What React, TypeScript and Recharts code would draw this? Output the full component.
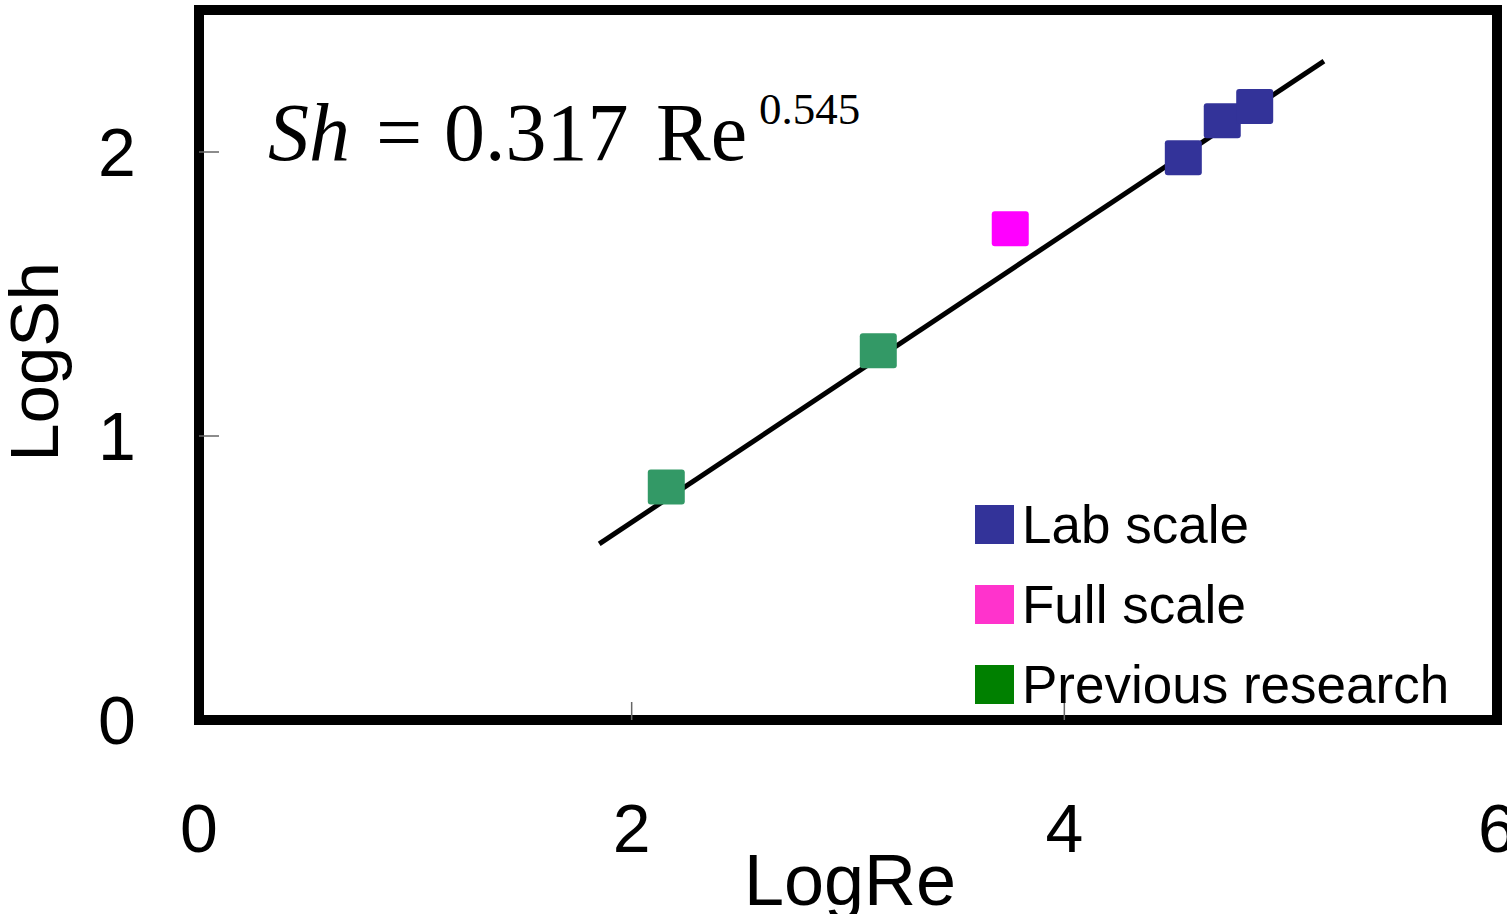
// Sh–Re correlation: log-log scatter of three data sets with a fitted line.

import React from 'react'
import {
  ScatterChart,
  Scatter,
  XAxis,
  YAxis,
  ReferenceLine,
  ReferenceArea,
} from 'recharts'

const SANS = "'Liberation Sans', Arial, Helvetica, sans-serif"
const SERIF = "'Liberation Serif', 'Times New Roman', serif"

// values (LogRe, LogSh)
const labScale = [
  { x: 4.55, y: 1.98 },
  { x: 4.73, y: 2.11 },
  { x: 4.88, y: 2.16 },
]
const fullScale = [{ x: 3.75, y: 1.73 }]
const previousResearch = [
  { x: 2.16, y: 0.82 },
  { x: 3.14, y: 1.3 },
]
// fitted line end points
const fitLine = [
  { x: 1.85, y: 0.62 },
  { x: 5.2, y: 2.32 },
]

const xTicks = [0, 2, 4, 6]
const yTicks = [0, 1, 2]

const seriesNames = ['Lab scale', 'Full scale', 'Previous research']
const markerColors = ['#333399', '#FF00FF', '#339966']
const legendColors = ['#333399', '#FF33CC', '#008000']

function SquareMarker(props: any) {
  const { cx, cy, fill } = props
  if (cx == null || cy == null) return null
  return <rect x={cx - 18.5} y={cy - 17.5} width={37} height={35} rx={3} fill={fill} />
}

function XTick({ x, y, payload }: any) {
  return (
    <g>
      {payload.value !== 0 && payload.value !== 6 && (
        <line x1={x} x2={x} y1={y} y2={y - 18} stroke="#666" strokeWidth={1.5} />
      )}
      <text x={x} y={y + 108} textAnchor="middle" dominantBaseline="central" fontSize={68} fontFamily={SANS} fill="#000">
        {payload.value}
      </text>
    </g>
  )
}

function YTick({ x, y, payload }: any) {
  return (
    <g>
      {payload.value !== 0 && (
        <line x1={x} x2={x + 20} y1={y} y2={y} stroke="#666" strokeWidth={1.5} />
      )}
      <text x={x - 82} y={y} textAnchor="middle" dominantBaseline="central" fontSize={68} fontFamily={SANS} fill="#000">
        {payload.value}
      </text>
    </g>
  )
}

function LegendBox() {
  return (
    <div style={{ position: 'absolute', left: 975, top: 484, fontFamily: SANS }}>
      {seriesNames.map((name, i) => (
        <div key={name} style={{ display: 'flex', alignItems: 'center', height: 80 }}>
          <span style={{ width: 39, height: 39, background: legendColors[i], marginRight: 8, display: 'inline-block' }} />
          <span style={{ fontSize: 53, lineHeight: '53px', color: '#000', whiteSpace: 'nowrap' }}>{name}</span>
        </div>
      ))}
    </div>
  )
}

export default function App() {
  return (
    <div style={{ position: 'absolute', left: 0, top: 0, width: 1507, height: 914, background: '#fff', overflow: 'hidden' }}>
      <ScatterChart width={1507} height={914} margin={{ top: 10, right: 10, bottom: 0, left: 0 }}>
        <XAxis
          type="number"
          dataKey="x"
          domain={[0, 6]}
          ticks={xTicks}
          interval={0}
          axisLine={false}
          tickLine={false}
          tickSize={0}
          tickMargin={0}
          height={194}
          tick={<XTick />}
        />
        <YAxis
          type="number"
          dataKey="y"
          domain={[0, 2.5]}
          ticks={yTicks}
          interval={0}
          axisLine={false}
          tickLine={false}
          tickSize={0}
          tickMargin={0}
          width={199}
          tick={<YTick />}
        />
        <ReferenceArea x1={0} x2={6} y1={0} y2={2.5} fill="none" stroke="#000" strokeWidth={10} ifOverflow="visible" />
        <Scatter name={seriesNames[2]} data={previousResearch} fill={markerColors[2]} shape={<SquareMarker />} isAnimationActive={false} />
        <Scatter name={seriesNames[1]} data={fullScale} fill={markerColors[1]} shape={<SquareMarker />} isAnimationActive={false} />
        <Scatter name={seriesNames[0]} data={labScale} fill={markerColors[0]} shape={<SquareMarker />} isAnimationActive={false} />
        <ReferenceLine segment={fitLine} stroke="#000" strokeWidth={5} ifOverflow="visible" />
      </ScatterChart>
      <svg width={1507} height={914} style={{ position: 'absolute', left: 0, top: 0, pointerEvents: 'none' }}>
        <text x={268} y={160} fontFamily={SERIF} fontSize={82} fill="#000">
          <tspan fontStyle="italic">Sh</tspan>
          <tspan x={376}>=</tspan>
          <tspan x={444}>0.317</tspan>
          <tspan x={656}>Re</tspan>
          <tspan x={759} y={124} fontSize={45}>0.545</tspan>
        </text>
        <text x={850} y={905} textAnchor="middle" fontFamily={SANS} fontSize={72} fill="#000">LogRe</text>
        <text transform="translate(58,362) rotate(-90)" textAnchor="middle" fontFamily={SANS} fontSize={69} fill="#000">LogSh</text>
      </svg>
      <LegendBox />
    </div>
  )
}
